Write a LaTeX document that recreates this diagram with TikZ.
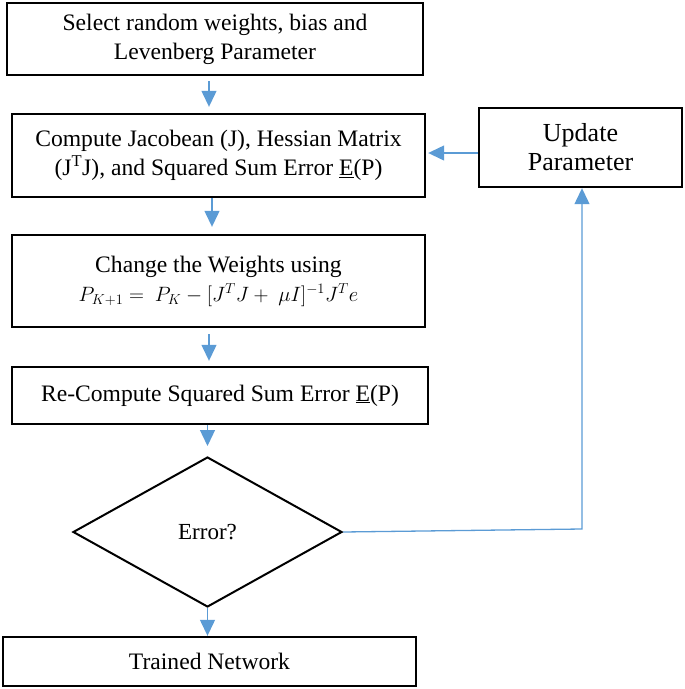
\documentclass[tikz,border=0pt]{standalone}
\usepackage{fontspec}
\setmainfont{Liberation Serif}
\usetikzlibrary{shapes.geometric,arrows.meta}
\definecolor{arrblue}{RGB}{91,155,213}
\tikzset{
  box/.style={draw, line width=2.4pt, rectangle, inner sep=0pt, align=center,
    font=\fontsize{23.6}{29}\selectfont},
  decision/.style={draw, line width=2pt, diamond, inner sep=0pt, align=center,
    font=\fontsize{23}{28}\selectfont},
  arr/.style={draw=arrblue, line width=1.3pt, -{Triangle[width=15pt,length=16pt]}}
}
\begin{document}
\begin{tikzpicture}[x=1pt,y=-1pt]
\useasboundingbox (0,0) rectangle (685,689);
\node[box, minimum width=416pt, minimum height=72pt] (sel) at (215,39)
  {Select random weights, bias and\\Levenberg Parameter};
\node[box, minimum width=413pt, minimum height=83pt] (comp) at (218.5,155.5)
  {Compute Jacobean (J), Hessian Matrix\\(J\textsuperscript{T}J), and Squared Sum Error \underline{E}(P)};
\node[box, minimum width=203pt, minimum height=79pt, font=\fontsize{26}{29}\selectfont] (upd) at (580.5,147.5)
  {Update\\Parameter};
\node[box, minimum width=413pt, minimum height=92pt] (chg) at (218.5,281)
  {Change the Weights using\\{\fontsize{20.5}{29}\selectfont$P_{K+1} = \ P_K - [J^TJ + \ \mu I]^{-1}J^Te$}};
\node[box, minimum width=416pt, minimum height=57pt] (rec) at (220,395.5)
  {Re-Compute Squared Sum Error \underline{E}(P)};
\node[decision, minimum width=269pt, minimum height=150pt] (err) at (207.5,532) {Error?};
\node[box, minimum width=413pt, minimum height=49pt] (trn) at (209.5,661.5) {Trained Network};

\coordinate (cx) at (209,0);
\coordinate (cx2) at (212,0);
\coordinate (hy) at (0,153);
\coordinate (corner) at (582,529);

\draw[arr, shorten <=5pt, shorten >=6pt] (sel.south -| cx) -- (comp.north -| cx);
\draw[arr, shorten >=7pt] (comp.south -| cx2) -- (chg.north -| cx2);
\draw[arr, shorten <=6pt, shorten >=5pt] (chg.south -| cx) -- (rec.north -| cx);
\draw[arr, shorten >=10pt] (rec.south -| err.north) -- (err.north);
\draw[arr] (err.south) -- (trn.north -| err.south);
\draw[arr, shorten >=2pt] (upd.west |- hy) -- (comp.east |- hy);
\draw[arr] (err.east) -- (corner) -- (upd.south -| corner);
\end{tikzpicture}
\end{document}
